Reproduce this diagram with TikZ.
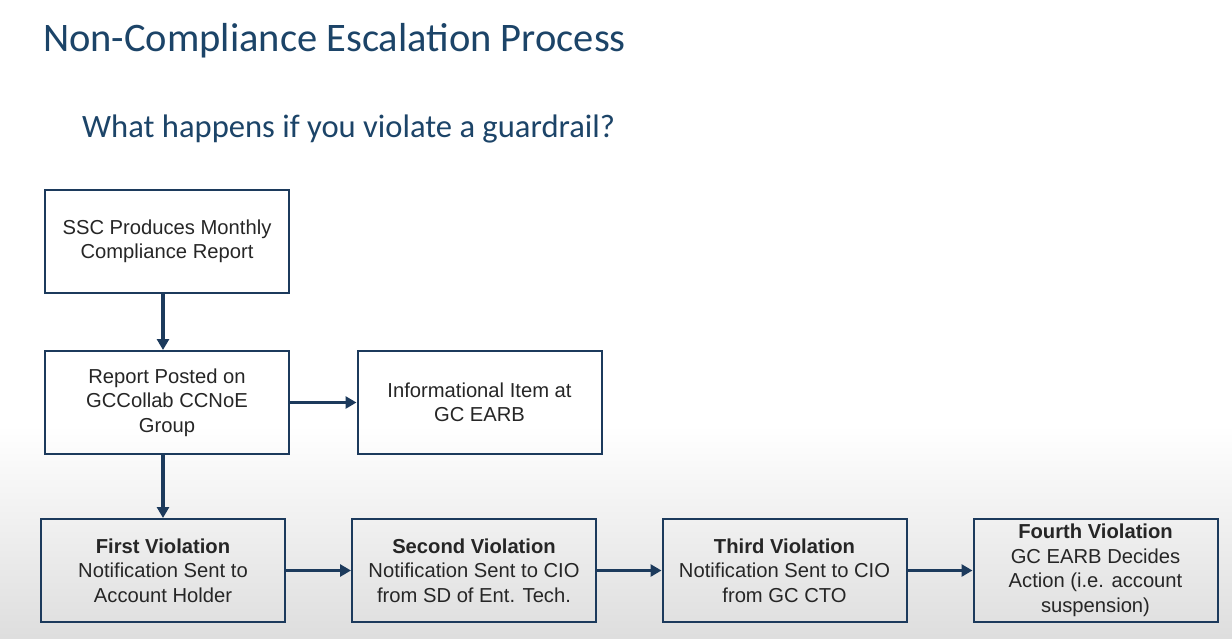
\documentclass[tikz,border=0pt]{standalone}
\usepackage{fontspec}
\setmainfont{Liberation Sans}
\newfontfamily\titlefont{Carlito}
\usepackage{xcolor}
\usetikzlibrary{arrows.meta, positioning}

\definecolor{navy}{RGB}{28,58,92}
\definecolor{titleblue}{RGB}{28,68,104}

\begin{document}
\begin{tikzpicture}[x=1pt, y=-1pt,
    box/.style={rectangle, draw=navy, line width=2pt, minimum width=244pt, minimum height=103pt,
        align=center, font=\fontsize{20.2}{24.5}\selectfont, text=black!85},
    arrow/.style={-{Triangle[length=11pt, width=12pt]}, draw=navy, line width=3.6pt}
]
    % Background
    \useasboundingbox (0,0) rectangle (1232,638);
    \fill[white] (0,0) rectangle (1232,425);
    \shade[top color=white, bottom color=black!13] (0,425) rectangle (1232,638);

    % Titles
    \node[anchor=base west, inner sep=0pt, text=titleblue, font=\titlefont\fontsize{40.5}{44}\selectfont]
        (title) at (43,51) {Non-Compliance Escalation Process};
    \node[anchor=base west, inner sep=0pt, text=titleblue, font=\titlefont\fontsize{32.6}{36}\selectfont]
        (subtitle) at (82,137) {What happens if you violate a guardrail?};

    % Boxes
    \node[box] (ssc) at (167,241.5) {SSC Produces Monthly\\Compliance Report};
    \node[box] (posted) at (167,402.5) {Report Posted on\\GCCollab CCNoE\\Group};
    \node[box] (info) at (479.5,402.5) {Informational Item at\\GC EARB};
    \node[box] (first) at (163,570.5) {\textbf{First Violation}\\Notification Sent to\\Account Holder};
    \node[box] (second) at (474,570.5) {\textbf{Second Violation}\\Notification Sent to CIO\\from SD of Ent. Tech.};
    \node[box] (third) at (784.5,570.5) {\textbf{Third Violation}\\Notification Sent to CIO\\from GC CTO};
    \node[box] (fourth) at (1095.5,570.5) {\textbf{Fourth Violation}\\GC EARB Decides\\Action (i.e. account\\suspension)};

    % Connections
    \draw[arrow] (ssc.south -| first.north) -- (posted.north -| first.north);
    \draw[arrow] (posted) -- (info);
    \draw[arrow] (posted.south -| first.north) -- (first.north);
    \draw[arrow] (first) -- (second);
    \draw[arrow] (second) -- (third);
    \draw[arrow] (third) -- (fourth);
\end{tikzpicture}
\end{document}
